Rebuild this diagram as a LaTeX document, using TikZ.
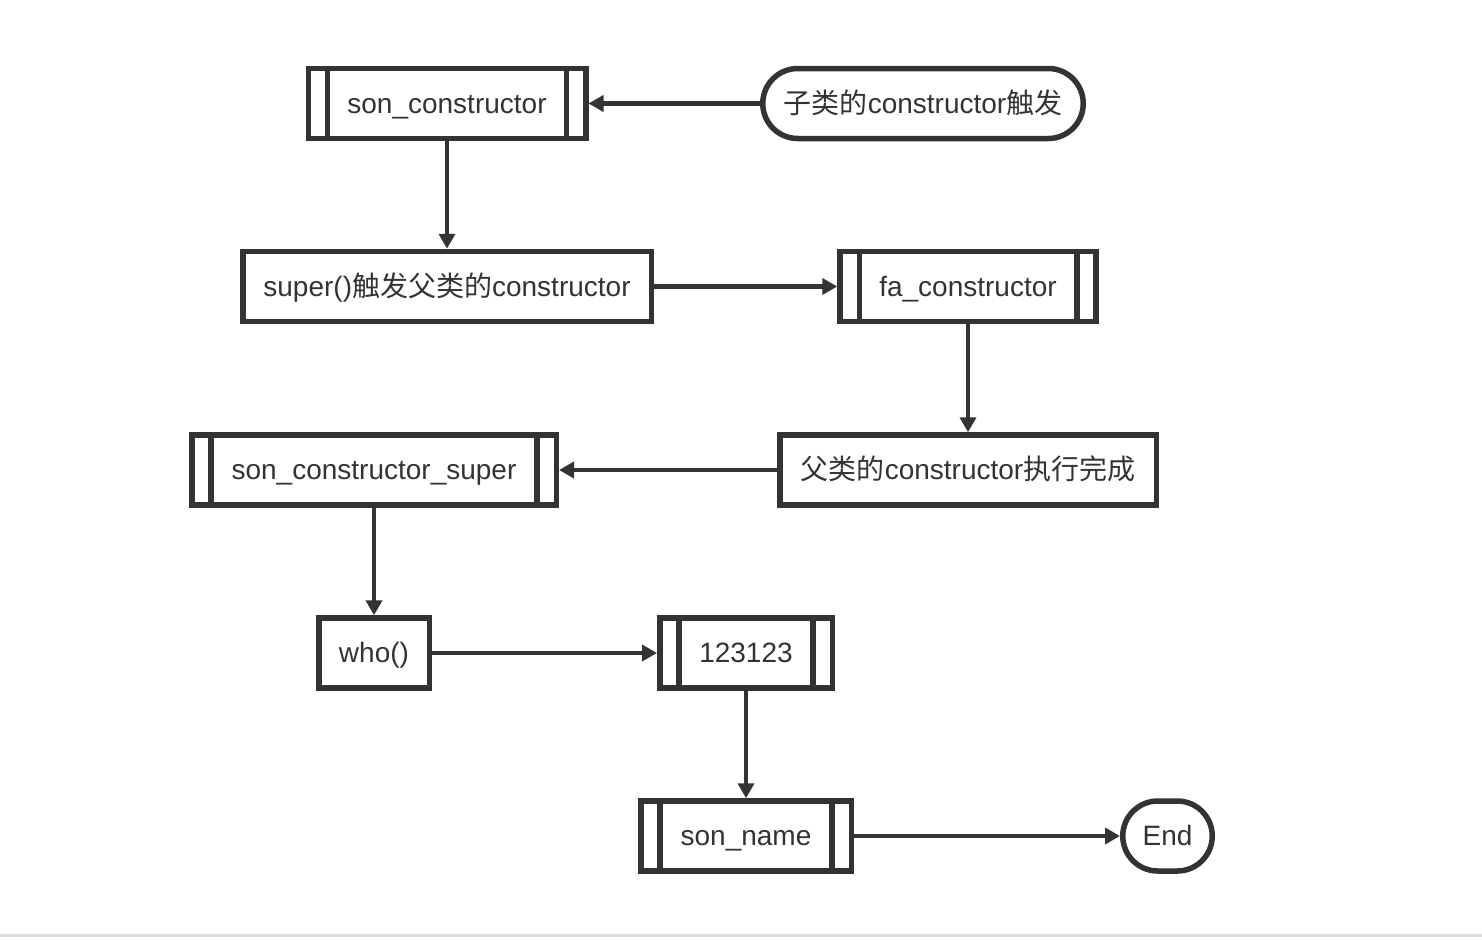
\documentclass[tikz,border=0pt]{standalone}
\usepackage{fontspec}
\setmainfont{Liberation Sans}
\newfontfamily\cjk{Noto Sans CJK SC}
\usetikzlibrary{arrows.meta}
\definecolor{ink}{HTML}{333333}
\definecolor{rule}{HTML}{DCDCDC}
\begin{document}
\begin{tikzpicture}[x=1pt,y=-1pt,
  every node/.style={font=\fontsize{28}{33}\selectfont, text=ink, text height=25pt, text depth=6pt},
  box/.style={draw=ink, line width=5.5pt, rectangle, inner sep=0pt, minimum height=70pt},
  sub/.style={box},
  term/.style={draw=ink, line width=5.5pt, rectangle, rounded corners=35pt, inner sep=0pt, minimum height=70pt},
  bar/.style={draw=ink, line width=5.5pt},
  flow/.style={draw=ink, line width=4.5pt, -{Triangle[length=15pt,width=16pt]}}
]
% canvas
\useasboundingbox (0,0) rectangle (1482,940);
\fill[white] (0,0) rectangle (1482,940);
\fill[rule] (0,933.5) rectangle (1482,936.5);

% nodes
\node[sub, minimum width=277.5pt] (sc) at (447,103.5) {son\_constructor};
\node[term, minimum width=320.5pt] (trig) at (923,103.5) {{\cjk 子类的}constructor{\cjk 触发}};
\node[box, minimum width=408.5pt] (sup) at (447,286.5) {super(){\cjk 触发父类的}constructor};
\node[sub, minimum width=256pt] (fa) at (968,286.5) {fa\_constructor};
\node[box, minimum width=376.5pt] (done) at (968,470) {{\cjk 父类的}constructor{\cjk 执行完成}};
\node[sub, minimum width=364.5pt] (scs) at (374,470) {son\_constructor\_super};
\node[box, minimum width=110.5pt] (who) at (374,653) {who()};
\node[sub, minimum width=172.5pt] (num) at (746,653) {123123};
\node[sub, minimum width=210.5pt] (sn) at (746,836) {son\_name};
\node[term, minimum width=89.5pt] (end) at (1167.5,836) {End};

% inner bars of the subroutine boxes
\foreach \n in {sc,fa,scs,num,sn}{
  \draw[bar] ([xshift=22pt]\n.north west) -- ([xshift=22pt]\n.south west);
  \draw[bar] ([xshift=-22pt]\n.north east) -- ([xshift=-22pt]\n.south east);
}

% connectors
\draw[flow] (trig) -- (sc);
\draw[flow] (sc) -- (sup);
\draw[flow] (sup) -- (fa);
\draw[flow] (fa) -- (done);
\draw[flow] (done) -- (scs);
\draw[flow] (scs) -- (who);
\draw[flow] (who) -- (num);
\draw[flow] (num) -- (sn);
\draw[flow] (sn) -- (end);
\end{tikzpicture}
\end{document}
